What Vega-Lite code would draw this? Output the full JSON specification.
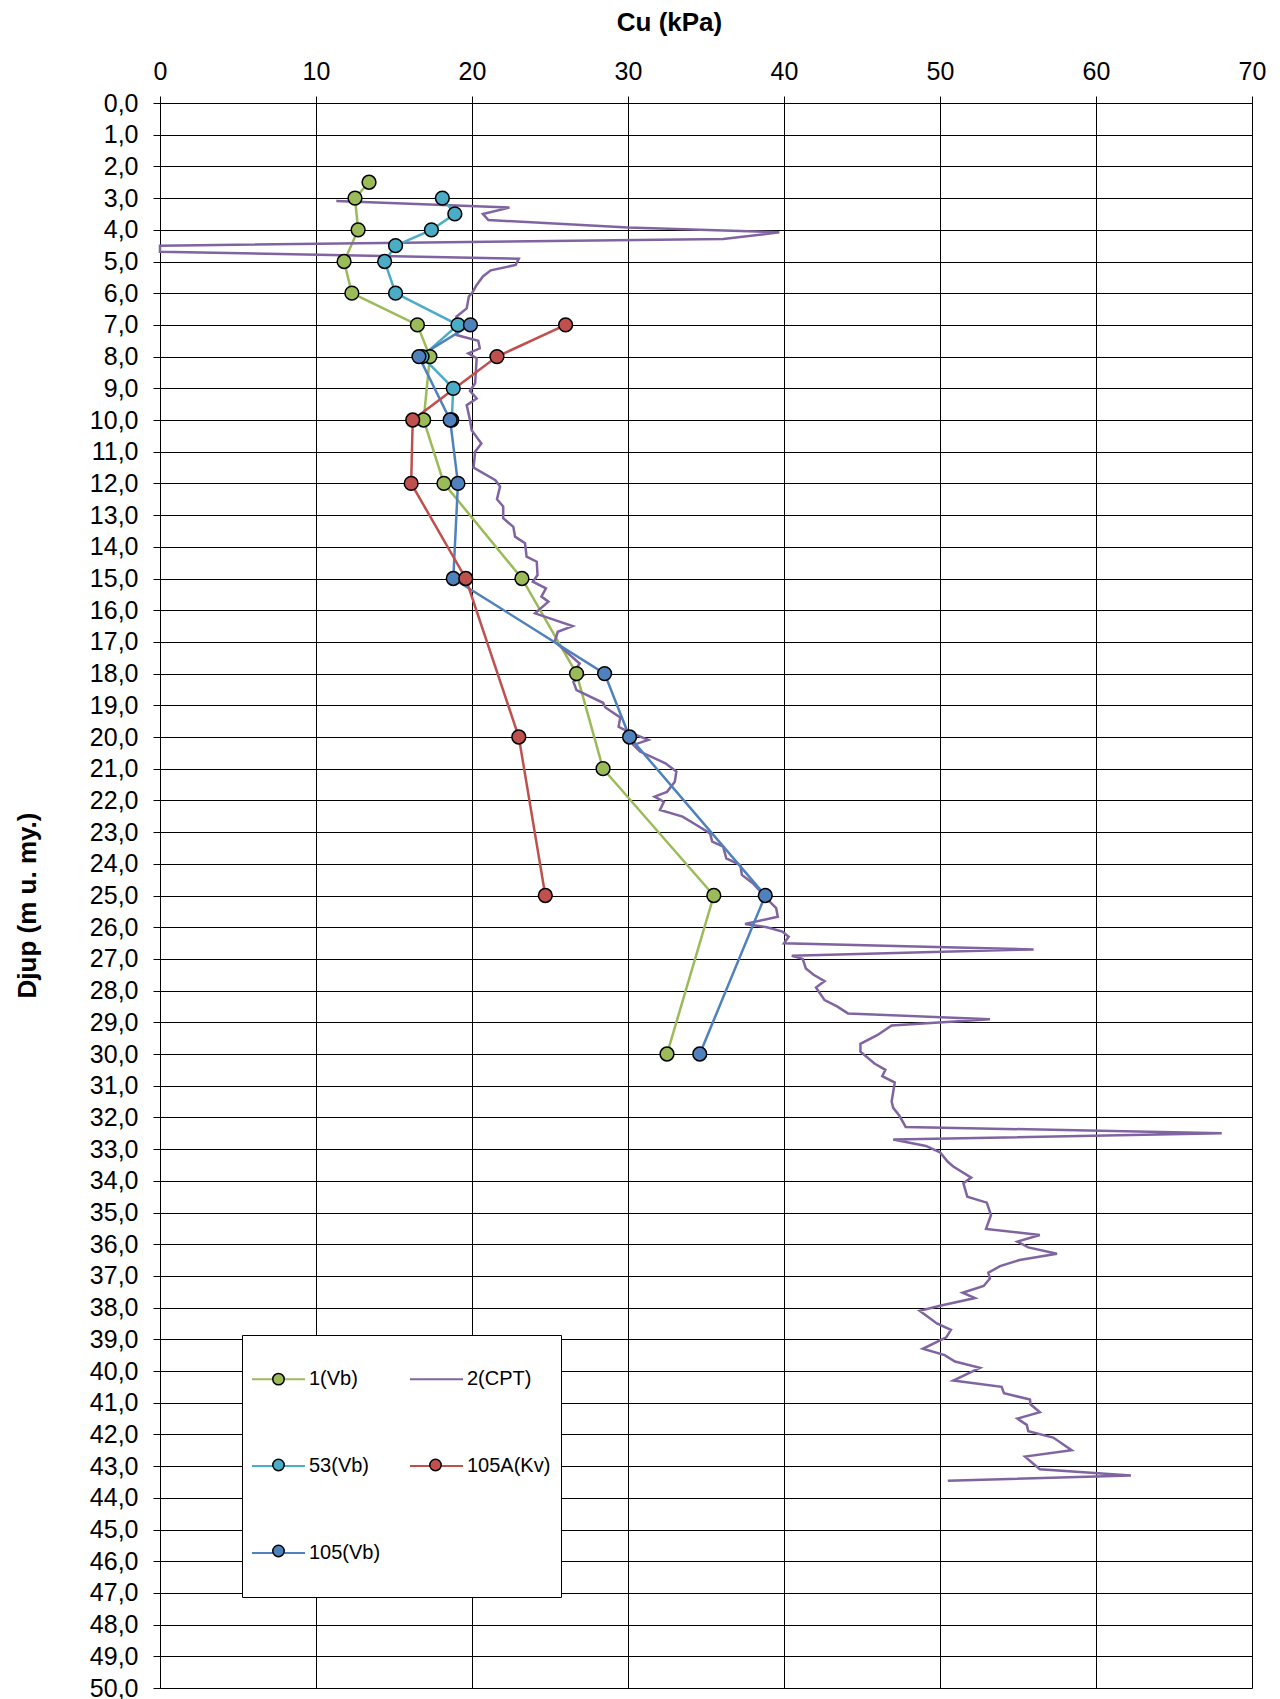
{
  "$schema": "https://vega.github.io/schema/vega-lite/v6.json",
  "width": 1092,
  "height": 1585,
  "autosize": {"type": "none"},
  "padding": {"left": 160, "top": 103, "right": 28, "bottom": 11},
  "background": "white",
  "config": {"view": {"stroke": null}, "font": "Liberation Sans"},
  "data": {"values": [
    {"s":"1(Vb)","cu":13.4,"d":2.5},{"s":"1(Vb)","cu":12.5,"d":3.0},{"s":"1(Vb)","cu":12.7,"d":4.0},{"s":"1(Vb)","cu":11.8,"d":5.0},{"s":"1(Vb)","cu":12.3,"d":6.0},{"s":"1(Vb)","cu":16.5,"d":7.0},{"s":"1(Vb)","cu":17.3,"d":8.0},{"s":"1(Vb)","cu":16.9,"d":10.0},{"s":"1(Vb)","cu":18.2,"d":12.0},{"s":"1(Vb)","cu":23.2,"d":15.0},{"s":"1(Vb)","cu":26.7,"d":18.0},{"s":"1(Vb)","cu":28.4,"d":21.0},{"s":"1(Vb)","cu":35.5,"d":25.0},{"s":"1(Vb)","cu":32.5,"d":30.0},
    {"s":"2(CPT)","cu":11.3,"d":3.09},{"s":"2(CPT)","cu":22.4,"d":3.30},{"s":"2(CPT)","cu":20.7,"d":3.50},{"s":"2(CPT)","cu":21.05,"d":3.69},{"s":"2(CPT)","cu":30.0,"d":3.93},{"s":"2(CPT)","cu":39.7,"d":4.08},{"s":"2(CPT)","cu":36.1,"d":4.29},{"s":"2(CPT)","cu":0.0,"d":4.50},{"s":"2(CPT)","cu":0.0,"d":4.69},{"s":"2(CPT)","cu":23.0,"d":4.91},{"s":"2(CPT)","cu":22.8,"d":5.11},{"s":"2(CPT)","cu":21.2,"d":5.28},{"s":"2(CPT)","cu":20.7,"d":5.47},{"s":"2(CPT)","cu":20.3,"d":5.74},{"s":"2(CPT)","cu":20.0,"d":6.0},{"s":"2(CPT)","cu":19.8,"d":6.1},{"s":"2(CPT)","cu":19.66,"d":6.48},{"s":"2(CPT)","cu":19.0,"d":6.74},{"s":"2(CPT)","cu":19.0,"d":7.32},{"s":"2(CPT)","cu":20.4,"d":7.50},{"s":"2(CPT)","cu":20.5,"d":7.74},{"s":"2(CPT)","cu":19.76,"d":7.90},{"s":"2(CPT)","cu":20.3,"d":8.05},{"s":"2(CPT)","cu":20.2,"d":8.84},{"s":"2(CPT)","cu":19.87,"d":9.08},{"s":"2(CPT)","cu":20.3,"d":9.32},{"s":"2(CPT)","cu":19.66,"d":9.53},{"s":"2(CPT)","cu":19.87,"d":10.0},{"s":"2(CPT)","cu":19.98,"d":10.32},{"s":"2(CPT)","cu":20.6,"d":10.74},{"s":"2(CPT)","cu":20.2,"d":11.0},{"s":"2(CPT)","cu":20.1,"d":11.5},{"s":"2(CPT)","cu":21.5,"d":11.9},{"s":"2(CPT)","cu":21.8,"d":12.1},{"s":"2(CPT)","cu":21.6,"d":12.5},{"s":"2(CPT)","cu":22.0,"d":12.73},{"s":"2(CPT)","cu":22.0,"d":13.1},{"s":"2(CPT)","cu":22.65,"d":13.37},{"s":"2(CPT)","cu":22.76,"d":13.68},{"s":"2(CPT)","cu":23.4,"d":13.89},{"s":"2(CPT)","cu":23.5,"d":14.31},{"s":"2(CPT)","cu":24.15,"d":14.47},{"s":"2(CPT)","cu":24.2,"d":14.89},{"s":"2(CPT)","cu":23.9,"d":15.1},{"s":"2(CPT)","cu":24.74,"d":15.31},{"s":"2(CPT)","cu":24.45,"d":15.57},{"s":"2(CPT)","cu":24.9,"d":15.73},{"s":"2(CPT)","cu":24.04,"d":16.1},{"s":"2(CPT)","cu":26.45,"d":16.5},{"s":"2(CPT)","cu":25.5,"d":16.68},{"s":"2(CPT)","cu":25.3,"d":16.99},{"s":"2(CPT)","cu":26.9,"d":17.68},{"s":"2(CPT)","cu":26.6,"d":17.89},{"s":"2(CPT)","cu":27.14,"d":18.05},{"s":"2(CPT)","cu":26.5,"d":18.26},{"s":"2(CPT)","cu":26.7,"d":18.52},{"s":"2(CPT)","cu":28.4,"d":18.92},{"s":"2(CPT)","cu":28.55,"d":19.07},{"s":"2(CPT)","cu":29.5,"d":19.38},{"s":"2(CPT)","cu":29.4,"d":19.68},{"s":"2(CPT)","cu":30.0,"d":19.83},{"s":"2(CPT)","cu":31.3,"d":20.09},{"s":"2(CPT)","cu":30.35,"d":20.25},{"s":"2(CPT)","cu":30.77,"d":20.46},{"s":"2(CPT)","cu":32.4,"d":20.83},{"s":"2(CPT)","cu":33.1,"d":21.09},{"s":"2(CPT)","cu":33.0,"d":21.41},{"s":"2(CPT)","cu":32.5,"d":21.73},{"s":"2(CPT)","cu":31.7,"d":21.88},{"s":"2(CPT)","cu":32.3,"d":22.04},{"s":"2(CPT)","cu":32.05,"d":22.3},{"s":"2(CPT)","cu":33.5,"d":22.51},{"s":"2(CPT)","cu":34.2,"d":22.72},{"s":"2(CPT)","cu":35.26,"d":23.04},{"s":"2(CPT)","cu":35.4,"d":23.3},{"s":"2(CPT)","cu":36.1,"d":23.46},{"s":"2(CPT)","cu":36.3,"d":23.83},{"s":"2(CPT)","cu":37.2,"d":24.04},{"s":"2(CPT)","cu":37.3,"d":24.35},{"s":"2(CPT)","cu":38.0,"d":24.61},{"s":"2(CPT)","cu":38.6,"d":24.93},{"s":"2(CPT)","cu":39.1,"d":25.2},{"s":"2(CPT)","cu":39.5,"d":25.4},{"s":"2(CPT)","cu":39.6,"d":25.67},{"s":"2(CPT)","cu":37.5,"d":25.9},{"s":"2(CPT)","cu":38.9,"d":26.0},{"s":"2(CPT)","cu":39.9,"d":26.14},{"s":"2(CPT)","cu":40.3,"d":26.3},{"s":"2(CPT)","cu":40.0,"d":26.51},{"s":"2(CPT)","cu":56.0,"d":26.7},{"s":"2(CPT)","cu":40.5,"d":26.9},{"s":"2(CPT)","cu":41.2,"d":27.0},{"s":"2(CPT)","cu":41.4,"d":27.3},{"s":"2(CPT)","cu":41.9,"d":27.5},{"s":"2(CPT)","cu":42.6,"d":27.7},{"s":"2(CPT)","cu":42.05,"d":27.9},{"s":"2(CPT)","cu":42.6,"d":28.3},{"s":"2(CPT)","cu":43.4,"d":28.5},{"s":"2(CPT)","cu":44.1,"d":28.72},{"s":"2(CPT)","cu":53.2,"d":28.9},{"s":"2(CPT)","cu":46.9,"d":29.1},{"s":"2(CPT)","cu":46.0,"d":29.4},{"s":"2(CPT)","cu":44.9,"d":29.68},{"s":"2(CPT)","cu":44.9,"d":29.93},{"s":"2(CPT)","cu":45.8,"d":30.3},{"s":"2(CPT)","cu":46.5,"d":30.5},{"s":"2(CPT)","cu":46.3,"d":30.7},{"s":"2(CPT)","cu":47.1,"d":30.9},{"s":"2(CPT)","cu":46.9,"d":31.5},{"s":"2(CPT)","cu":47.0,"d":31.7},{"s":"2(CPT)","cu":47.4,"d":31.95},{"s":"2(CPT)","cu":47.8,"d":32.3},{"s":"2(CPT)","cu":68.06,"d":32.5},{"s":"2(CPT)","cu":47.0,"d":32.7},{"s":"2(CPT)","cu":49.1,"d":32.9},{"s":"2(CPT)","cu":50.0,"d":33.1},{"s":"2(CPT)","cu":50.5,"d":33.4},{"s":"2(CPT)","cu":50.85,"d":33.55},{"s":"2(CPT)","cu":52.0,"d":33.9},{"s":"2(CPT)","cu":51.5,"d":34.08},{"s":"2(CPT)","cu":51.75,"d":34.5},{"s":"2(CPT)","cu":53.0,"d":34.69},{"s":"2(CPT)","cu":53.27,"d":35.08},{"s":"2(CPT)","cu":52.95,"d":35.52},{"s":"2(CPT)","cu":56.4,"d":35.71},{"s":"2(CPT)","cu":54.96,"d":35.92},{"s":"2(CPT)","cu":55.66,"d":36.1},{"s":"2(CPT)","cu":57.5,"d":36.3},{"s":"2(CPT)","cu":55.1,"d":36.5},{"s":"2(CPT)","cu":53.85,"d":36.69},{"s":"2(CPT)","cu":53.1,"d":36.9},{"s":"2(CPT)","cu":53.2,"d":37.08},{"s":"2(CPT)","cu":52.8,"d":37.32},{"s":"2(CPT)","cu":51.45,"d":37.53},{"s":"2(CPT)","cu":52.24,"d":37.7},{"s":"2(CPT)","cu":50.0,"d":37.94},{"s":"2(CPT)","cu":48.7,"d":38.1},{"s":"2(CPT)","cu":49.8,"d":38.5},{"s":"2(CPT)","cu":50.7,"d":38.7},{"s":"2(CPT)","cu":50.4,"d":38.94},{"s":"2(CPT)","cu":48.9,"d":39.3},{"s":"2(CPT)","cu":50.3,"d":39.5},{"s":"2(CPT)","cu":50.96,"d":39.7},{"s":"2(CPT)","cu":52.56,"d":39.9},{"s":"2(CPT)","cu":50.85,"d":40.3},{"s":"2(CPT)","cu":53.95,"d":40.5},{"s":"2(CPT)","cu":54.1,"d":40.7},{"s":"2(CPT)","cu":55.77,"d":40.9},{"s":"2(CPT)","cu":55.8,"d":41.05},{"s":"2(CPT)","cu":56.4,"d":41.3},{"s":"2(CPT)","cu":54.96,"d":41.5},{"s":"2(CPT)","cu":55.56,"d":41.7},{"s":"2(CPT)","cu":55.66,"d":41.9},{"s":"2(CPT)","cu":57.26,"d":42.1},{"s":"2(CPT)","cu":58.44,"d":42.5},{"s":"2(CPT)","cu":55.45,"d":42.7},{"s":"2(CPT)","cu":56.4,"d":43.1},{"s":"2(CPT)","cu":62.24,"d":43.3},{"s":"2(CPT)","cu":50.5,"d":43.46},
    {"s":"53(Vb)","cu":18.1,"d":3.0},{"s":"53(Vb)","cu":18.9,"d":3.5},{"s":"53(Vb)","cu":17.4,"d":4.0},{"s":"53(Vb)","cu":15.1,"d":4.5},{"s":"53(Vb)","cu":14.4,"d":5.0},{"s":"53(Vb)","cu":15.1,"d":6.0},{"s":"53(Vb)","cu":19.1,"d":7.0},{"s":"53(Vb)","cu":16.8,"d":8.0},{"s":"53(Vb)","cu":18.8,"d":9.0},{"s":"53(Vb)","cu":18.7,"d":10.0},
    {"s":"105(Vb)","cu":19.9,"d":7.0},{"s":"105(Vb)","cu":16.6,"d":8.0},{"s":"105(Vb)","cu":18.6,"d":10.0},{"s":"105(Vb)","cu":19.1,"d":12.0},{"s":"105(Vb)","cu":18.8,"d":15.0},{"s":"105(Vb)","cu":28.5,"d":18.0},{"s":"105(Vb)","cu":30.1,"d":20.0},{"s":"105(Vb)","cu":38.8,"d":25.0},{"s":"105(Vb)","cu":34.6,"d":30.0},
    {"s":"105A(Kv)","cu":26.0,"d":7.0},{"s":"105A(Kv)","cu":21.6,"d":8.0},{"s":"105A(Kv)","cu":16.2,"d":10.0},{"s":"105A(Kv)","cu":16.1,"d":12.0},{"s":"105A(Kv)","cu":19.6,"d":15.0},{"s":"105A(Kv)","cu":23.0,"d":20.0},{"s":"105A(Kv)","cu":24.7,"d":25.0}
  ]},
  "encoding": {
    "x": {"field": "cu", "type": "quantitative",
      "scale": {"domain": [0, 70], "nice": false, "zero": false},
      "axis": {"orient": "top", "values": [0,10,20,30,40,50,60,70], "format": "d",
        "grid": true, "gridColor": "#000000", "gridWidth": 1, "gridOpacity": 1,
        "domain": true, "domainColor": "#000000", "domainWidth": 1,
        "ticks": true, "tickSize": 7, "tickColor": "#000000", "tickWidth": 1,
        "labelFont": "Liberation Sans", "labelFontSize": 25, "labelColor": "#000000", "labelPadding": 12,
        "labelFlush": false, "labelOverlap": false, "labelBound": false,
        "title": "Cu (kPa)", "titleFont": "Liberation Sans", "titleFontSize": 26, "titleFontWeight": "bold", "titleColor": "#000000",
        "titleX": 509, "titleY": -81, "titleAlign": "center", "titleBaseline": "middle", "titleAngle": 0}},
    "y": {"field": "d", "type": "quantitative",
      "scale": {"domain": [0, 50], "nice": false, "zero": false, "reverse": true},
      "axis": {"values": [0,1,2,3,4,5,6,7,8,9,10,11,12,13,14,15,16,17,18,19,20,21,22,23,24,25,26,27,28,29,30,31,32,33,34,35,36,37,38,39,40,41,42,43,44,45,46,47,48,49,50],
        "labelExpr": "replace(format(datum.value, '.1f'), '.', ',')",
        "grid": true, "gridColor": "#000000", "gridWidth": 1, "gridOpacity": 1,
        "domain": true, "domainColor": "#000000", "domainWidth": 1,
        "ticks": true, "tickSize": 7, "tickColor": "#000000", "tickWidth": 1,
        "labelFont": "Liberation Sans", "labelFontSize": 25, "labelColor": "#000000", "labelPadding": 15,
        "labelFlush": false, "labelOverlap": false, "labelBound": false,
        "title": "Djup (m u. my.)", "titleFont": "Liberation Sans", "titleFontSize": 26, "titleFontWeight": "bold", "titleColor": "#000000",
        "titleX": -133, "titleY": 802, "titleAlign": "center", "titleBaseline": "middle", "titleAngle": 270}}
  },
  "layer": [
    {
      "mark": {"type": "line", "strokeWidth": 2.5},
      "encoding": {
        "color": {"field": "s", "type": "nominal",
          "scale": {"domain": ["1(Vb)", "2(CPT)", "53(Vb)", "105A(Kv)", "105(Vb)"],
                    "range": ["#9BBB59", "#8064A2", "#4BACC6", "#C0504D", "#4F81BD"]},
          "legend": {"orient": "none", "direction": "horizontal", "legendX": 82, "legendY": 1232, "columns": 2, "title": null,
            "symbolType": "M-0.803,0L0.803,0M0,0.9", "symbolSize": 4356, "symbolStrokeWidth": 2,
            "labelFont": "Liberation Sans", "labelFontSize": 20, "labelColor": "#000000", "labelOffset": -3.5, "labelLimit": 300,
            "rowPadding": 19, "columnPadding": 25, "padding": 10, "symbolOffset": -7.5,
            "fillColor": "white", "strokeColor": "#000000"}},
        "order": {"field": "d", "type": "quantitative"}
      }
    },
    {
      "transform": [{"filter": "datum.s !== '2(CPT)'"}],
      "mark": {"type": "point", "shape": "circle", "filled": true, "size": 190, "strokeWidth": 1.5, "opacity": 1},
      "encoding": {
        "fill": {"field": "s", "type": "nominal",
          "scale": {"domain": ["1(Vb)", " ", "53(Vb)", "105A(Kv)", "105(Vb)"],
                    "range": ["#9BBB59", "transparent", "#4BACC6", "#C0504D", "#4F81BD"]},
          "legend": {"orient": "none", "direction": "horizontal", "legendX": 82, "legendY": 1232, "columns": 2, "title": null,
            "symbolType": "M-0.803,0M0.803,0M0,0.9M-0.173,0A0.173,0.173,0,1,1,0.173,0A0.173,0.173,0,1,1,-0.173,0Z",
            "symbolSize": 4356, "symbolStrokeWidth": 1.5,
            "labelFont": "Liberation Sans", "labelFontSize": 20, "labelColor": "#000000", "labelOpacity": 0, "labelOffset": -3.5, "labelLimit": 300,
            "rowPadding": 19, "columnPadding": 25, "padding": 10, "symbolOffset": -7.5}},
        "stroke": {"field": "s", "type": "nominal",
          "scale": {"domain": ["1(Vb)", " ", "53(Vb)", "105A(Kv)", "105(Vb)"],
                    "range": ["#000000", "transparent", "#000000", "#000000", "#000000"]},
          "legend": {"orient": "none", "direction": "horizontal", "legendX": 82, "legendY": 1232, "columns": 2, "title": null,
            "symbolType": "M-0.803,0M0.803,0M0,0.9M-0.173,0A0.173,0.173,0,1,1,0.173,0A0.173,0.173,0,1,1,-0.173,0Z",
            "symbolSize": 4356, "symbolStrokeWidth": 1.5,
            "labelFont": "Liberation Sans", "labelFontSize": 20, "labelColor": "#000000", "labelOpacity": 0, "labelOffset": -3.5, "labelLimit": 300,
            "rowPadding": 19, "columnPadding": 25, "padding": 10, "symbolOffset": -7.5}}
      }
    }
  ]
}
